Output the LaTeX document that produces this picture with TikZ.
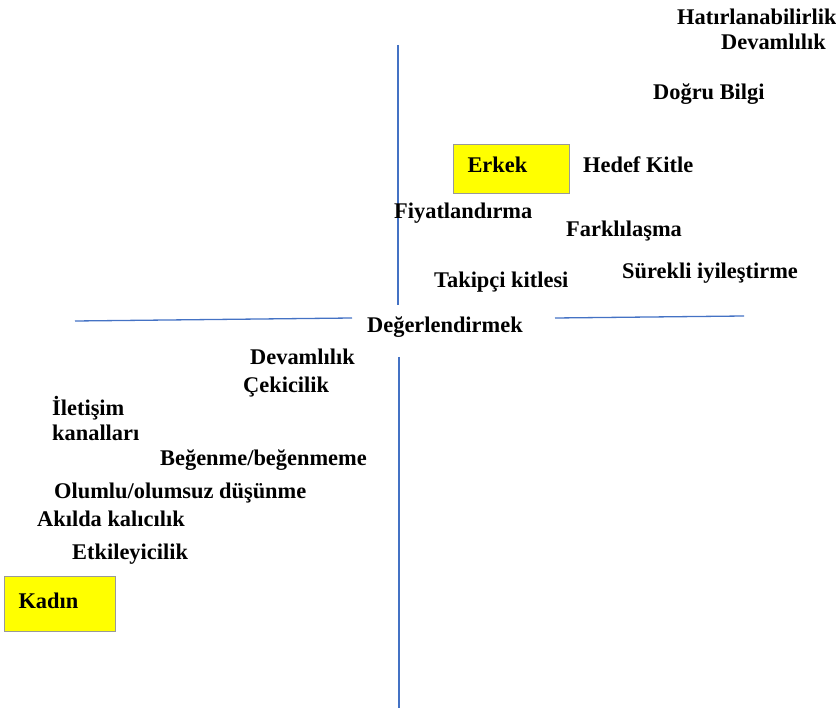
\documentclass[tikz,border=0pt]{standalone}
\usepackage{fontspec}
\setmainfont{Liberation Serif}
\usepackage{xcolor}
\usetikzlibrary{positioning}
\definecolor{axisblue}{HTML}{4472C4}
\definecolor{boxyellow}{HTML}{FFFF00}

\begin{document}
\begin{tikzpicture}[
    x=1pt, y=-1pt,
    font=\bfseries\fontsize{22.4}{26}\selectfont,
    lbl/.style={anchor=west, inner sep=0pt, text height=18pt, text depth=2pt},
    axis/.style={draw=axisblue, line width=1.3pt},
    tagbox/.style={draw=gray!80, line width=1pt, fill=boxyellow, anchor=north west,
        inner xsep=14pt, inner ysep=0pt, align=left, text height=14pt, text depth=6pt}
]
\useasboundingbox (0,0) rectangle (836,711);
% axes
\coordinate (vtop) at (398,45);
\coordinate (vmid) at (398,305);
\coordinate (vlow) at (399,357);
\coordinate (vbot) at (399,708);
\coordinate (hl) at (75,321);
\coordinate (hlm) at (352,318);
\coordinate (hrm) at (555,318);
\coordinate (hr) at (744,316);
\draw[axis] (vtop) -- (vmid);
\draw[axis] (vlow) -- (vbot);
\draw[axis] (hl) -- (hlm);
\draw[axis] (hrm) -- (hr);
\node[lbl] (center) at (367,325) {Değerlendirmek};
% upper right
\node[lbl] (hatir) at (677,17) {Hatırlanabilirlik};
\node[lbl] (devamA) at (721,42) {Devamlılık};
\node[lbl] (dogru) at (653,92) {Doğru Bilgi};
\node[tagbox, minimum height=49pt, text width=88pt] (erkek) at (453,144) {Erkek};
\node[lbl] (hedef) at (583,165) {Hedef Kitle};
\node[lbl] (fiyat) at (394,211) {Fiyatlandırma};
\node[lbl] (fark) at (566,229) {Farklılaşma};
\node[lbl] (surekli) at (622,271) {Sürekli iyileştirme};
\node[lbl] (takip) at (434,280) {Takipçi kitlesi};
% lower left
\node[lbl] (devamB) at (250,357) {Devamlılık};
\node[lbl] (cekici) at (243,385) {Çekicilik};
\node[lbl] (iletisim) at (52,408) {İletişim};
\node[lbl] (kanal) at (52,433) {kanalları};
\node[lbl] (begen) at (160,457) {Beğenme/beğenmeme};
\node[lbl] (olumlu) at (54,490) {Olumlu/olumsuz düşünme};
\node[lbl] (akil) at (37,518) {Akılda kalıcılık};
\node[lbl] (etki) at (72,551) {Etkileyicilik};
\node[tagbox, minimum height=55pt, text width=83pt] (kadin) at (4,576) {Kadın};
\end{tikzpicture}
\end{document}
